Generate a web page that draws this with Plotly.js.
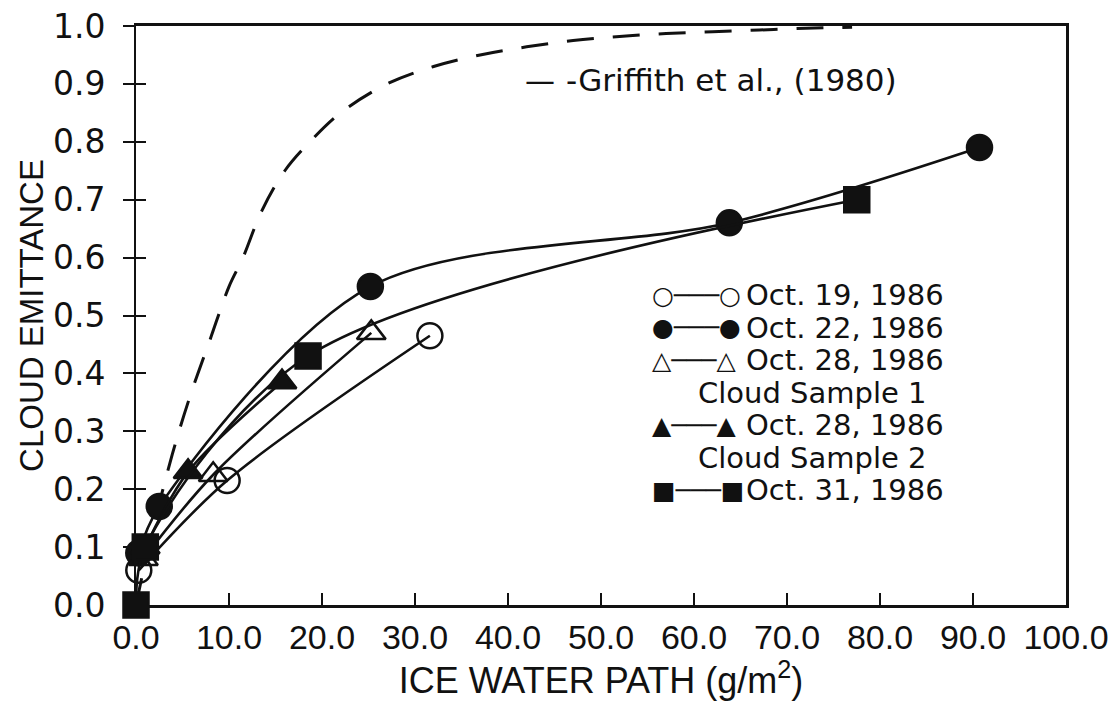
<!DOCTYPE html>
<html>
<head>
<meta charset="utf-8">
<script src="https://cdn.plot.ly/plotly-3.0.1.min.js"></script>
<style>
  html, body { margin: 0; padding: 0; background: #ffffff; }
  #chart { width: 1118px; height: 701px; }
</style>
</head>
<body>
<div id="chart"></div>
<script>
// Cloud emittance versus ice water path, five sampled days plus the Griffith et al. (1980) curve
const oct19X = [0.3, 9.8, 31.6];
const oct19Y = [0.06, 0.215, 0.465];

const oct22X = [0.3, 2.5, 25.2, 63.8, 90.7];
const oct22Y = [0.09, 0.17, 0.55, 0.66, 0.79];

const oct28s1X = [0.8, 8.3, 25.3];
const oct28s1Y = [0.08, 0.225, 0.47];

const oct28s2X = [1.0, 5.6, 15.7];
const oct28s2Y = [0.10, 0.23, 0.385];

const oct31X = [0.0, 1.0, 18.5, 77.5];
const oct31Y = [0.0, 0.10, 0.43, 0.70];

const griffithX = [0, 1.5, 3.9, 5.8, 8, 10, 11.5, 13.5, 16, 18.7, 22, 27, 32, 37, 42, 47, 52, 57, 62, 67, 72, 77];
const griffithY = [0, 0.11, 0.26, 0.36, 0.46, 0.55, 0.60, 0.68, 0.75, 0.80, 0.85, 0.90, 0.93, 0.95, 0.964, 0.975, 0.982, 0.987, 0.99, 0.993, 0.996, 0.998];

const xTickVals = [0, 10, 20, 30, 40, 50, 60, 70, 80, 90, 100];
const xTickText = ['0.0', '10.0', '20.0', '30.0', '40.0', '50.0', '60.0', '70.0', '80.0', '90.0', '100.0'];
const yTickVals = [0, 0.1, 0.2, 0.3, 0.4, 0.5, 0.6, 0.7, 0.8, 0.9, 1.0];
const yTickText = ['0.0', '0.1', '0.2', '0.3', '0.4', '0.5', '0.6', '0.7', '0.8', '0.9', '1.0'];

const legendRows = [
  { sym: '○───○', text: 'Oct. 19, 1986' },
  { sym: '●───●', text: 'Oct. 22, 1986' },
  { sym: '△───△', text: 'Oct. 28, 1986' },
  { sym: '', text: 'Cloud Sample 1' },
  { sym: '▲───▲', text: 'Oct. 28, 1986' },
  { sym: '', text: 'Cloud Sample 2' },
  { sym: '■───■', text: 'Oct. 31, 1986' }
];

const INK = '#111111';
const textFont = 'DejaVu Sans, Verdana, sans-serif';
const axisFont = 'Liberation Sans, Arial, sans-serif';

function series(x, y, symbol) {
  return {
    x: x, y: y, type: 'scatter', mode: 'lines+markers',
    line: { color: INK, width: 2.6, shape: 'spline', smoothing: 0.9 },
    marker: { symbol: symbol, size: 25, color: INK, line: { color: INK, width: 2.5 } },
    cliponaxis: false, showlegend: false, hoverinfo: 'skip'
  };
}

const traces = [
  {
    x: griffithX, y: griffithY, type: 'scatter', mode: 'lines',
    line: { color: INK, width: 3, dash: '27px,19px', shape: 'spline' },
    showlegend: false, hoverinfo: 'skip'
  },
  series(oct19X, oct19Y, 'circle-open'),
  series(oct22X, oct22Y, 'circle'),
  series(oct28s1X, oct28s1Y, 'triangle-up-open'),
  series(oct28s2X, oct28s2Y, 'triangle-up'),
  series(oct31X, oct31Y, 'square'),
  // invisible trace that carries the inward half of the crossing y ticks
  { x: [0], y: [0], xaxis: 'x2', yaxis: 'y2', mode: 'markers', marker: { opacity: 0 }, showlegend: false, hoverinfo: 'skip' }
];

const L = 136, R = 1066, T = 26, B = 605;
const pw = R - L, ph = B - T;
const px = v => (v - L) / pw;
const py = v => (B - v) / ph;

const annotations = [
  {
    xref: 'paper', yref: 'paper', x: px(523), y: py(80), xanchor: 'left', yanchor: 'middle',
    text: '—', showarrow: false, font: { family: textFont, size: 30, color: INK }
  },
  {
    xref: 'paper', yref: 'paper', x: px(564), y: py(80), xanchor: 'left', yanchor: 'middle',
    text: '-Griffith et al., (1980)', showarrow: false,
    font: { family: textFont, size: 31, color: INK }
  }
];
const rowY = [295, 327.5, 360, 392.5, 425, 457.5, 490];
legendRows.forEach((row, i) => {
  if (row.sym) {
    annotations.push({
      xref: 'paper', yref: 'paper', x: px(650), y: py(rowY[i]), xanchor: 'left', yanchor: 'middle',
      text: row.sym, showarrow: false, font: { family: textFont, size: 25, color: INK }
    });
    annotations.push({
      xref: 'paper', yref: 'paper', x: px(744), y: py(rowY[i]), xanchor: 'left', yanchor: 'middle',
      text: row.text, showarrow: false, font: { family: textFont, size: 29, color: INK }
    });
  } else {
    annotations.push({
      xref: 'paper', yref: 'paper', x: px(812), y: py(rowY[i]), xanchor: 'center', yanchor: 'middle',
      text: row.text, showarrow: false, font: { family: textFont, size: 29, color: INK }
    });
  }
});

// a no-break space after each y label leaves a wider gap before the ticks
const yTickLabels = yTickText.map(t => t + '\u00a0');

const layout = {
  width: 1118, height: 701,
  margin: { l: L, r: 1118 - R, t: T, b: 701 - B },
  paper_bgcolor: '#ffffff', plot_bgcolor: '#ffffff',
  showlegend: false,
  xaxis: {
    range: [0, 100], tickvals: xTickVals, ticktext: xTickText,
    ticks: 'inside', ticklen: 12, tickwidth: 2, tickcolor: INK,
    showline: true, linecolor: INK, linewidth: 3, mirror: true,
    showgrid: false, zeroline: false,
    tickfont: { family: axisFont, size: 34, color: INK },
    title: { text: 'ICE WATER PATH (g/m<sup>2</sup>)', font: { family: axisFont, size: 36, color: INK }, standoff: 2 }
  },
  yaxis: {
    range: [0, 1.0], tickvals: yTickVals, ticktext: yTickLabels,
    ticks: 'outside', ticklen: 11, tickwidth: 2, tickcolor: INK,
    showline: true, linecolor: INK, linewidth: 2.5, mirror: true,
    showgrid: false, zeroline: false,
    tickfont: { family: textFont, size: 33, color: INK },
    title: { text: 'CLOUD EMITTANCE', font: { family: axisFont, size: 33, color: INK }, standoff: 0 }
  },
  xaxis2: { overlaying: 'x', range: [0, 100], visible: false, showgrid: false },
  yaxis2: {
    overlaying: 'y', range: [0, 1.0], tickvals: yTickVals, showticklabels: false,
    ticks: 'inside', ticklen: 10, tickwidth: 2, tickcolor: INK,
    showline: false, showgrid: false, zeroline: false
  },
  annotations: annotations
};

Plotly.newPlot('chart', traces, layout, { staticPlot: true, displayModeBar: false });
</script>
</body>
</html>
